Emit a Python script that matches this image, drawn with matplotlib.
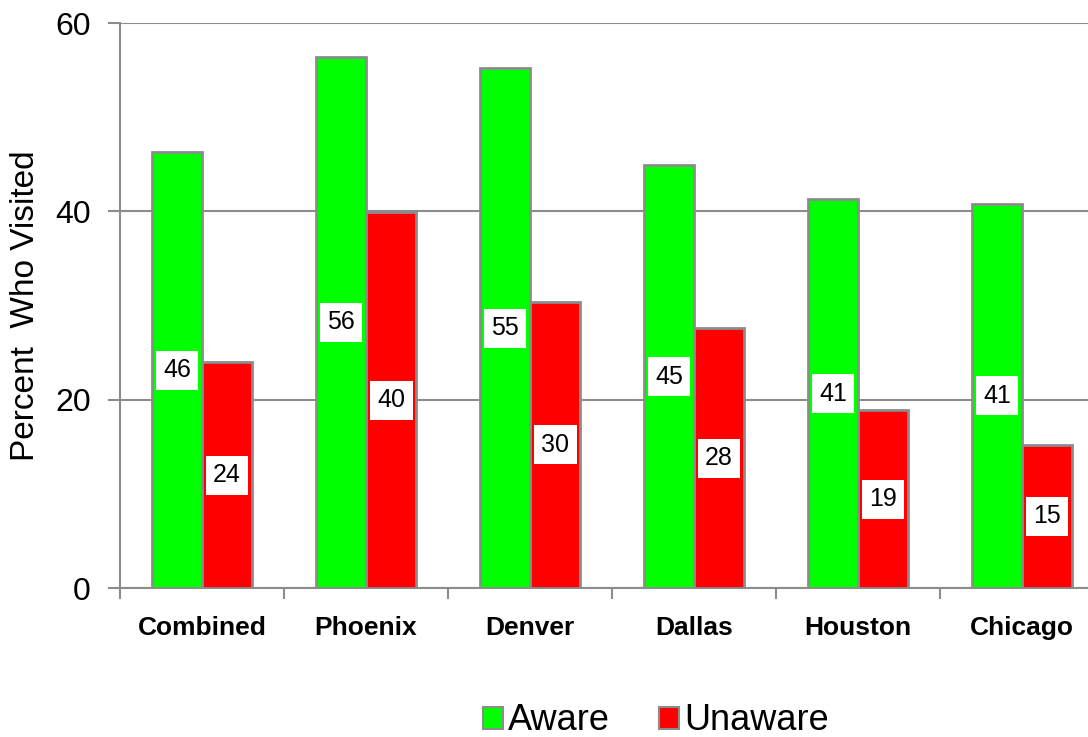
import numpy as np
import matplotlib
matplotlib.use("Agg")
import matplotlib.pyplot as plt
from matplotlib.patches import Patch

plt.rcParams["font.family"] = ["Liberation Sans", "DejaVu Sans"]

# Data
cities = ["Combined", "Phoenix", "Denver", "Dallas", "Houston", "Chicago"]
aware = [46.3, 56.4, 55.2, 44.9, 41.3, 40.8]
unaware = [24.0, 39.9, 30.4, 27.6, 18.9, 15.2]
aware_labels = ["46", "56", "55", "45", "41", "41"]
unaware_labels = ["24", "40", "30", "28", "19", "15"]

fig = plt.figure(figsize=(10.88, 7.37), dpi=100)
# axes runs a bit past the right edge, as in the original crop
ax = fig.add_axes([120 / 1088, 1 - 588 / 737, 984 / 1088, 565 / 737])

x = np.arange(len(cities))
w = 0.305
edge = "#8c8c8c"
ax.bar(x - w / 2, aware, w, color="#00ff00", edgecolor=edge, linewidth=2, zorder=3)
ax.bar(x + w / 2, unaware, w, color="#ff0000", edgecolor=edge, linewidth=2, zorder=3)

box = dict(boxstyle="square,pad=0.3", facecolor="white", edgecolor="none")
for xi, v, s in zip(x - w / 2, aware, aware_labels):
    ax.text(xi, v / 2, s, ha="center", va="center", fontsize=18, bbox=box, zorder=4)
for xi, v, s in zip(x + w / 2, unaware, unaware_labels):
    ax.text(xi, v / 2, s, ha="center", va="center", fontsize=18, bbox=box, zorder=4)

ax.set_xlim(-0.5, len(cities) - 0.5)
ax.set_ylim(0, 60)
ax.set_yticks([0, 20, 40, 60])
ax.yaxis.grid(True, color="#8c8c8c", linewidth=1.5, zorder=0)
ax.set_axisbelow(True)

ax.set_xticks(np.arange(len(cities) + 1) - 0.5, minor=True)
ax.set_xticks(x)
ax.set_xticklabels(cities, fontsize=19, fontweight="bold")
ax.tick_params(axis="x", which="major", length=0, pad=20)
ax.tick_params(axis="x", which="minor", length=8, width=1.5, color=edge)
ax.tick_params(axis="y", length=9, width=1.5, color=edge, labelsize=23, pad=12)

for s in ["top", "right"]:
    ax.spines[s].set_visible(False)
for s in ["left", "bottom"]:
    ax.spines[s].set_color(edge)
    ax.spines[s].set_linewidth(1.5)

ax.set_ylabel("Percent  Who Visited", fontsize=24, labelpad=10)

handles = [Patch(facecolor="#00ff00", edgecolor=edge, linewidth=1.5, label="Aware"),
           Patch(facecolor="#ff0000", edgecolor=edge, linewidth=1.5, label="Unaware")]
fig.legend(handles=handles, loc="center", bbox_to_anchor=(656 / 1088, 1 - 721 / 737),
           ncol=2, frameon=False, fontsize=26, handlelength=0.55, handleheight=0.55,
           handletextpad=0.15, columnspacing=1.35, borderpad=0)

fig.savefig("out.png", dpi=100)
